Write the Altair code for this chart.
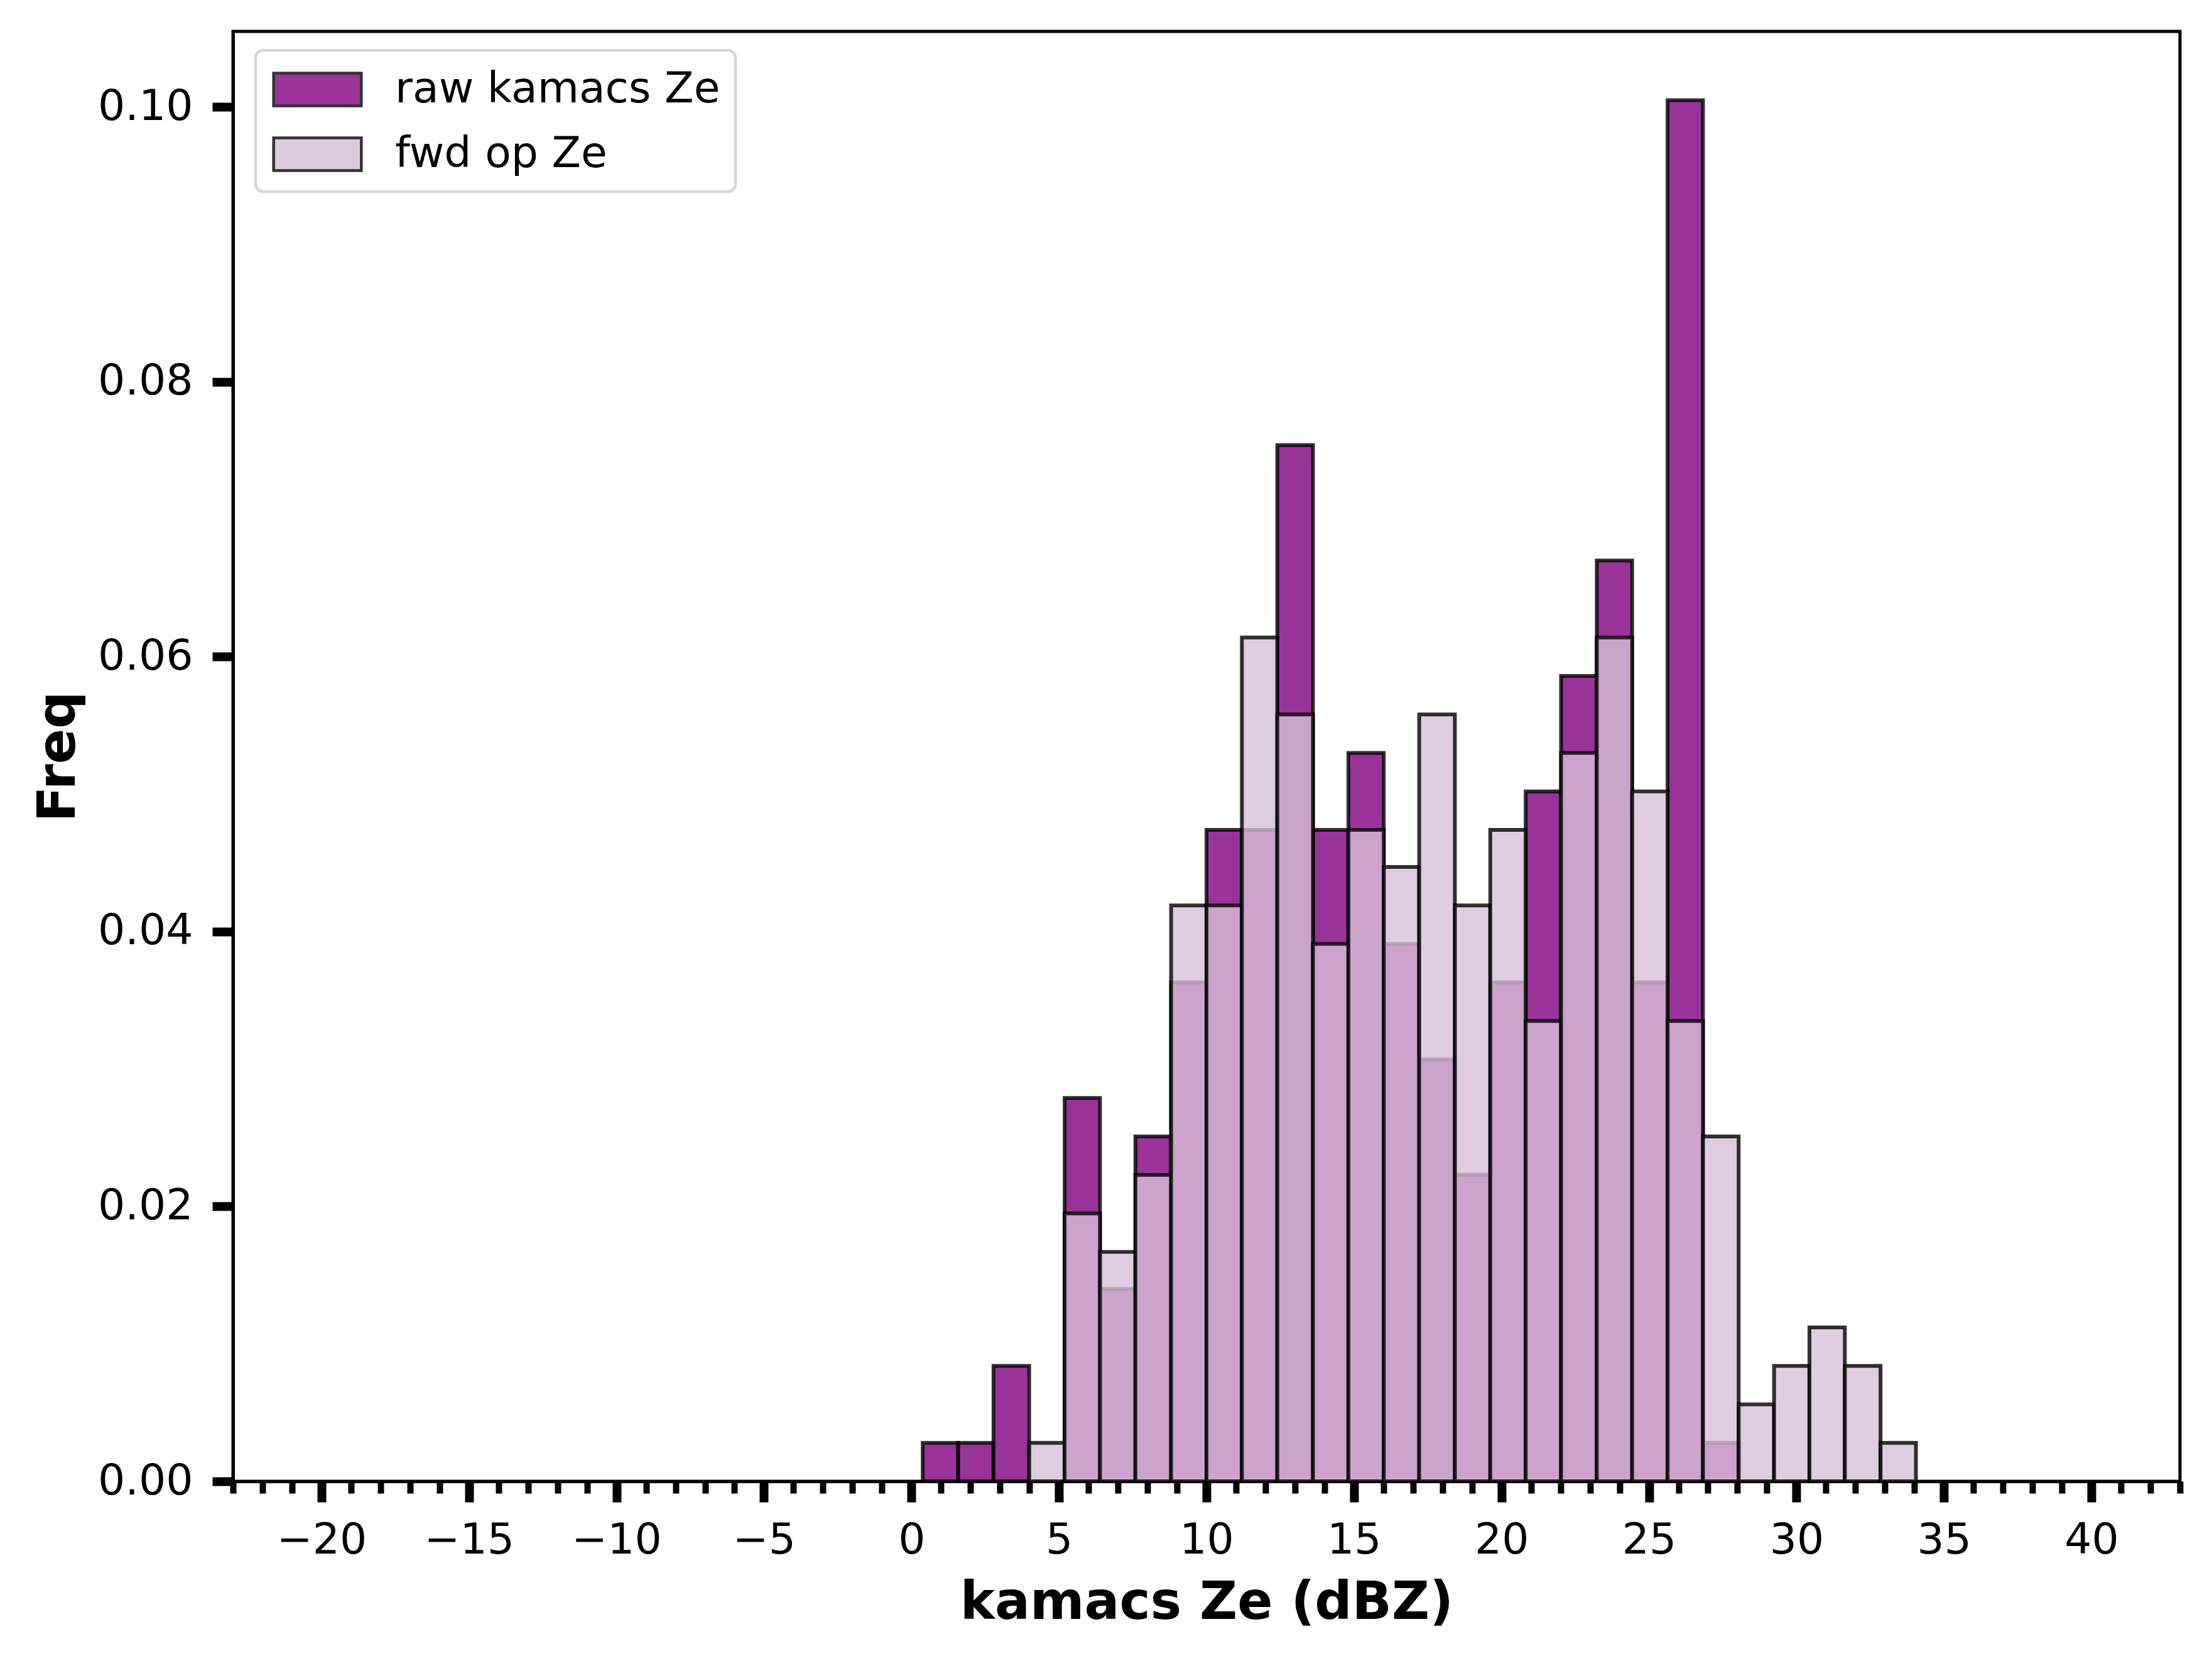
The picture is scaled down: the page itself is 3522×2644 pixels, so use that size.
import altair as alt
import pandas as pd

# ---- data ----
bin_edges = [0.38, 1.58, 2.78, 3.99, 5.19, 6.39, 7.59, 8.80, 10.00, 11.20,
             12.40, 13.61, 14.81, 16.01, 17.21, 18.42, 19.62, 20.82, 22.02,
             23.23, 24.43, 25.63, 26.83, 28.04, 29.24, 30.44, 31.64, 32.85,
             34.05]
raw_freq = [0.0028, 0.0028, 0.0084, 0.0, 0.0279, 0.0140, 0.0251, 0.0363,
            0.0474, 0.0474, 0.0754, 0.0474, 0.0530, 0.0391, 0.0307, 0.0223,
            0.0363, 0.0502, 0.0586, 0.0670, 0.0363, 0.1005, 0.0028, 0.0,
            0.0, 0.0, 0.0, 0.0]
fwd_freq = [0.0, 0.0, 0.0, 0.0028, 0.0195, 0.0167, 0.0223, 0.0419, 0.0419,
            0.0614, 0.0558, 0.0391, 0.0474, 0.0447, 0.0558, 0.0419, 0.0474,
            0.0335, 0.0530, 0.0614, 0.0502, 0.0335, 0.0251, 0.0056, 0.0084,
            0.0112, 0.0084, 0.0028]
series_names = ["raw kamacs Ze", "fwd op Ze"]
series_colors = ["purple", "thistle"]
x_major_ticks = [-20, -15, -10, -5, 0, 5, 10, 15, 20, 25, 30, 35, 40]
x_minor_ticks = [v for v in range(-23, 44) if v % 5 != 0]
y_ticks = [0.0, 0.02, 0.04, 0.06, 0.08, 0.10]

rows = []
for name, freqs in zip(series_names, [raw_freq, fwd_freq]):
    for i, f in enumerate(freqs):
        if f > 0:
            rows.append({"series": name, "x0": bin_edges[i],
                         "x1": bin_edges[i + 1], "freq": f})
df = pd.DataFrame(rows)

FONT = "DejaVu Sans"
color_scale = alt.Scale(domain=series_names, range=series_colors)
x_scale = alt.Scale(domain=[-23, 43], nice=False, zero=False)
y_scale = alt.Scale(domain=[0, 0.1055], nice=False)

legend = alt.Legend(
    title=None, orient="none", legendX=36, legendY=30,
    symbolType="M-1.94,-0.72H1.94V0.72H-1.94Z", symbolSize=5184,
    symbolStrokeColor="black", symbolStrokeWidth=4.5, symbolOpacity=0.8,
    symbolOffset=36, labelOffset=85, labelFontSize=68, labelFont=FONT,
    labelColor="black", labelLimit=2000, rowPadding=29, padding=24,
    fillColor="white", strokeColor="#d6d6d6", cornerRadius=12,
)

y_axis = alt.Axis(values=y_ticks, format=".2f", title="Freq",
                  tickSize=33, tickWidth=14, labelFontSize=68,
                  labelPadding=31, titleFontSize=83, titleFontWeight="bold",
                  titlePadding=36, grid=False)

x_major_axis = alt.Axis(values=x_major_ticks, title="kamacs Ze (dBZ)",
                        orient="bottom",
                        tickSize=33, tickWidth=14, labelFontSize=68,
                        labelPadding=27, titleFontSize=83,
                        titleFontWeight="bold", titlePadding=24,
                        labelFlush=False, labelOverlap=False, grid=False)
x_minor_axis = alt.Axis(values=x_minor_ticks, title=None, labels=False,
                        orient="bottom",
                        tickSize=19, tickWidth=10, domain=False, grid=False)

bar_style = dict(fillOpacity=0.8, stroke="black", strokeOpacity=0.8,
                 strokeWidth=6, strokeJoin="miter")

raw_layer = alt.Chart(df).transform_filter(
    alt.datum.series == series_names[0]
).mark_bar(**bar_style).encode(
    x=alt.X("x0:Q", scale=x_scale, axis=x_major_axis),
    x2="x1:Q",
    y=alt.Y("freq:Q", scale=y_scale, axis=y_axis, stack=None),
    y2=alt.datum(0),
    fill=alt.Fill("series:N", scale=color_scale, legend=legend),
)

fwd_layer = alt.Chart(df).transform_filter(
    alt.datum.series == series_names[1]
).mark_bar(**bar_style).encode(
    x=alt.X("x0:Q", scale=x_scale, axis=x_minor_axis),
    x2="x1:Q",
    y=alt.Y("freq:Q", scale=y_scale, axis=y_axis, stack=None),
    y2=alt.datum(0),
    fill=alt.Fill("series:N", scale=color_scale, legend=legend),
)

chart = alt.layer(raw_layer, fwd_layer).resolve_axis(
    x="independent"
).properties(
    width=3100, height=2308,
    autosize=alt.AutoSizeParams(type="none"),
    padding={"left": 363, "top": 42, "right": 40, "bottom": 250},
).configure(font=FONT).configure_view(
    stroke="black", strokeWidth=5
).configure_axis(
    zindex=1, domainColor="black", domainWidth=5, tickColor="black",
    labelColor="black", titleColor="black", labelFont=FONT, titleFont=FONT,
).configure_legend(strokeWidth=4.7)

chart.save("out.html", embed_options={"renderer": "svg", "actions": False})
